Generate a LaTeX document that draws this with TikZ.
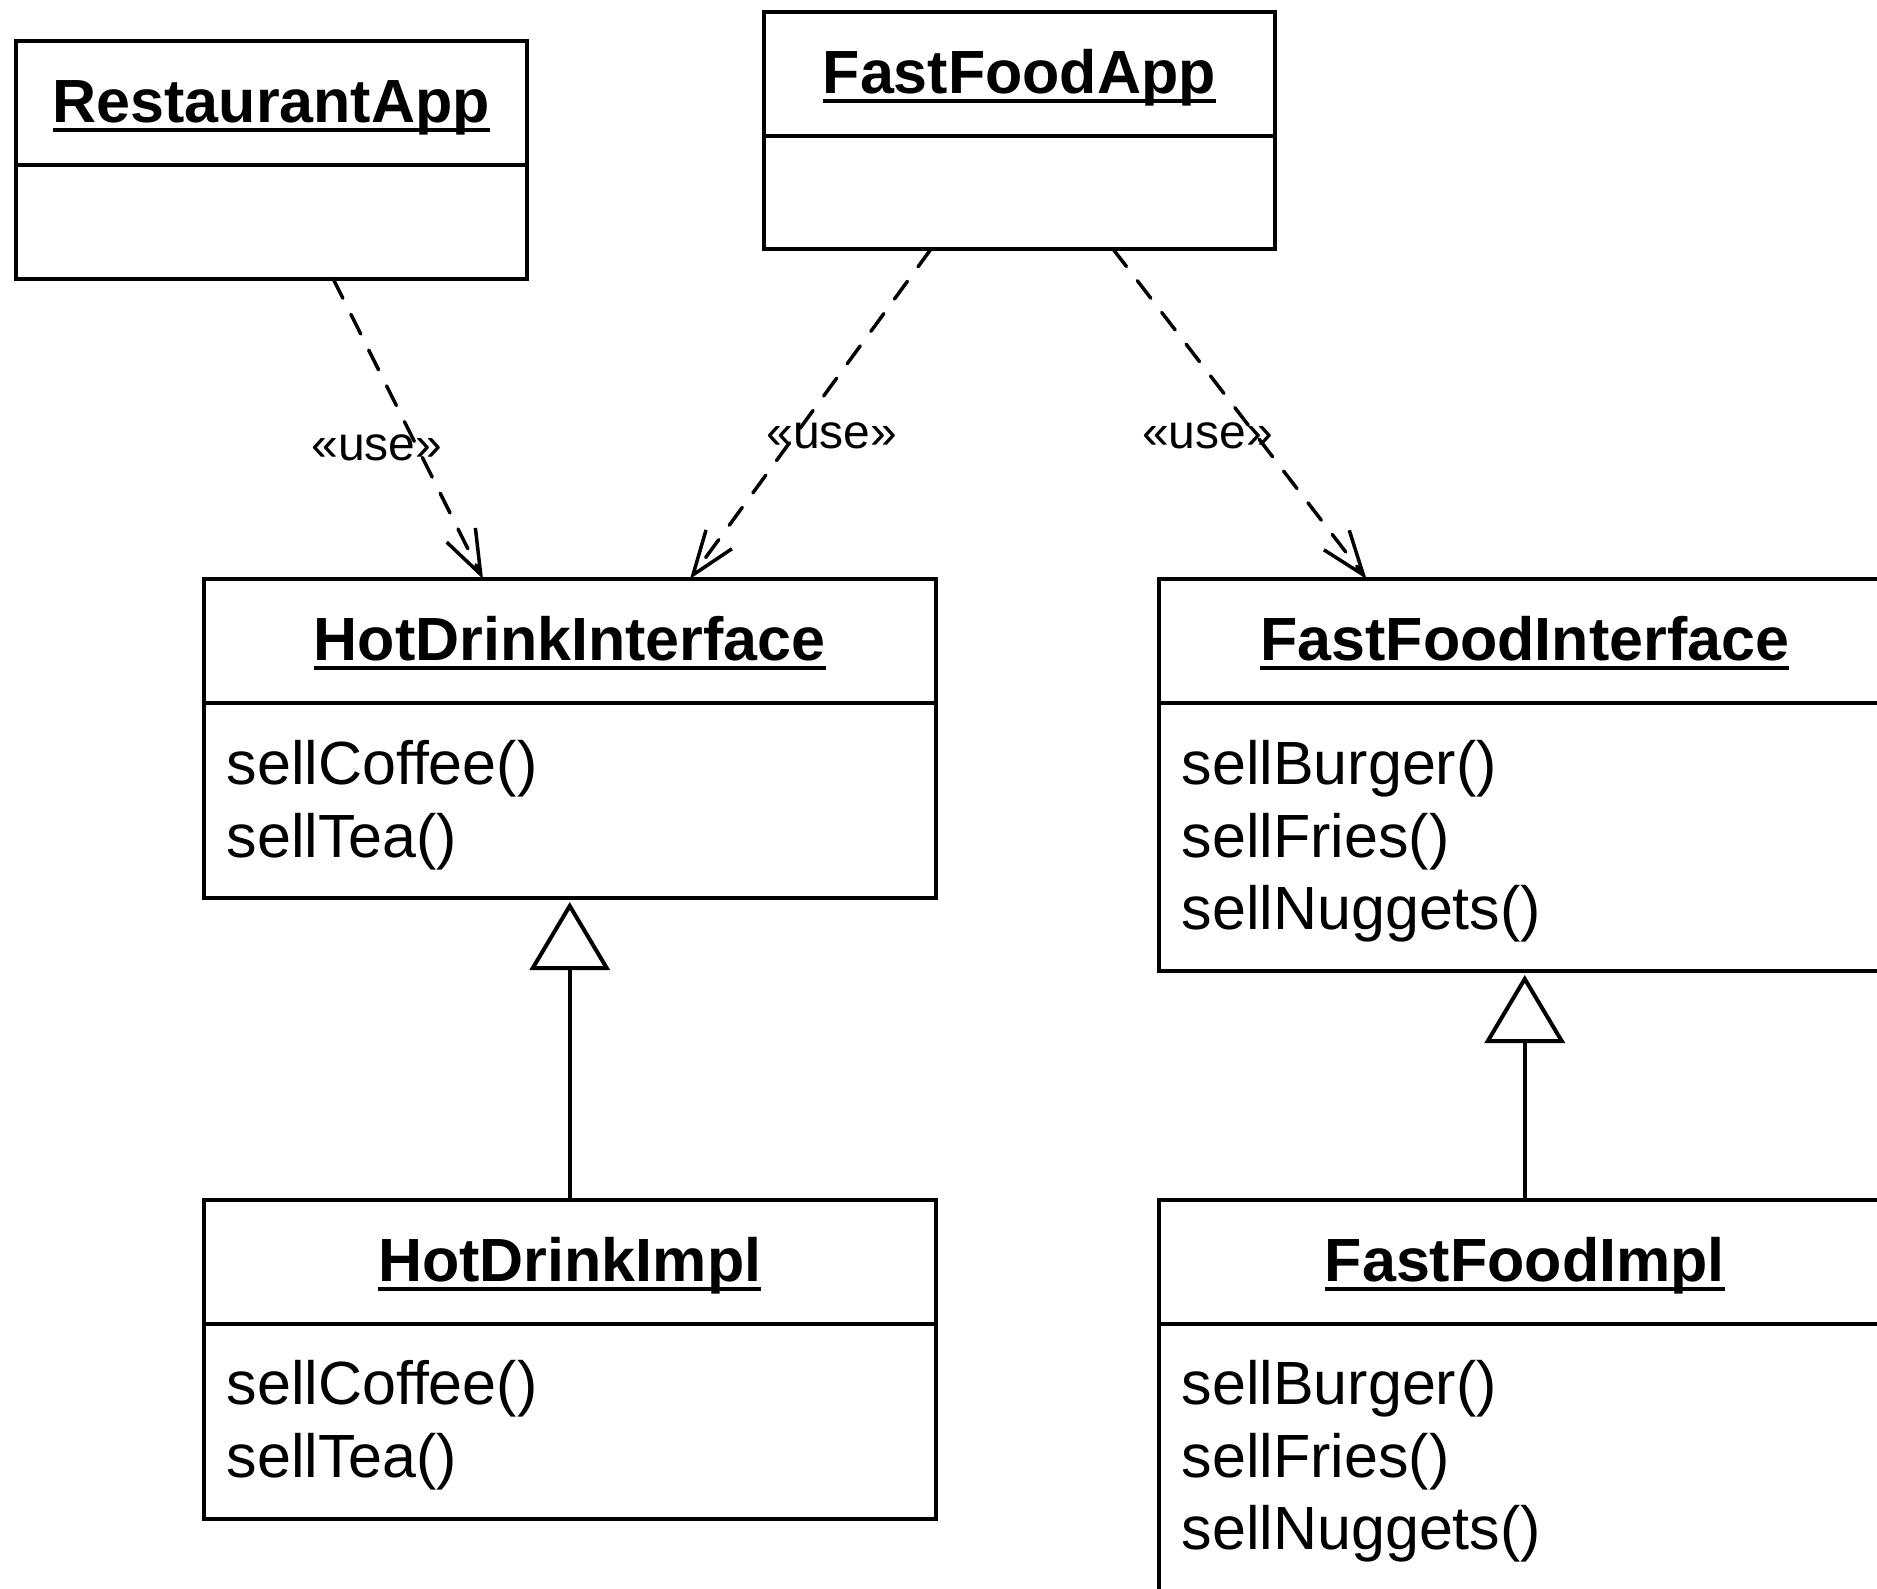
\documentclass[tikz,border=0pt]{standalone}
\usepackage{fontspec}
\setmainfont{Liberation Sans}
\usetikzlibrary{arrows.meta}
% class name with a heavy underline
\newcommand\ulname[1]{\setbox0=\hbox{#1}\rlap{\rule[-10pt]{\wd0}{4pt}}\box0}

\begin{document}
\begin{tikzpicture}[x=1pt,y=-1pt,
  classbox/.style={draw, line width=4pt, rectangle, inner sep=0pt, outer sep=0pt, anchor=north west},
  divider/.style={line width=4pt},
  cname/.style={font=\fontsize{61}{73}\selectfont\bfseries, inner sep=0pt, anchor=base},
  meth/.style={font=\fontsize{61}{73}\selectfont, inner sep=0pt, anchor=base west},
  stereo/.style={font=\fontsize{48}{58}\selectfont, inner sep=0pt, anchor=base},
  usedep/.style={line width=3.5pt, line cap=round, dash pattern=on 22pt off 18pt,
    -{Straight Barb[length=44pt,width=32pt,line cap=butt]}},
  realize/.style={line width=4pt, -{Triangle[open,length=68pt,width=80pt]}, shorten >=4pt}
]
\useasboundingbox (0,0) rectangle (1877,1588);
\clip (0,0) rectangle (1877,1588);

% class boxes
\node[classbox, minimum width=511.5pt, minimum height=237.5pt] (ra)  at (15.5,41) {};
\node[classbox, minimum width=511.5pt, minimum height=237pt]   (ffa) at (763.5,12) {};
\node[classbox, minimum width=732.5pt, minimum height=319pt]   (hdi) at (203.5,579) {};
\node[classbox, minimum width=732.5pt, minimum height=392pt]   (ffi) at (1158.5,579) {};
\node[classbox, minimum width=732.5pt, minimum height=318.5pt] (hdm) at (203.5,1200) {};
\node[classbox, minimum width=732.5pt, minimum height=392pt]   (ffm) at (1158.5,1200) {};

% compartment dividers
\foreach \b in {ra,ffa,hdi,ffi,hdm,ffm}
  \draw[divider] ([yshift=-124pt]\b.north west) -- ([yshift=-124pt]\b.north east);

% class names
\node[cname] (raT)  at ([yshift=-81pt]ra.north)  {\ulname{RestaurantApp}};
\node[cname] (ffaT) at ([yshift=-81pt]ffa.north) {\ulname{FastFoodApp}};
\node[cname] (hdiT) at ([yshift=-81pt]hdi.north) {\ulname{HotDrinkInterface}};
\node[cname] (ffiT) at ([yshift=-81pt]ffi.north) {\ulname{FastFoodInterface}};
\node[cname] (hdmT) at ([yshift=-81pt]hdm.north) {\ulname{HotDrinkImpl}};
\node[cname] (ffmT) at ([yshift=-81pt]ffm.north) {\ulname{FastFoodImpl}};

% operations
\node[meth] (hdiA) at ([xshift=23pt,yshift=-205pt]hdi.north west) {sellCoffee()};
\node[meth] (hdiB) at ([xshift=23pt,yshift=-278pt]hdi.north west) {sellTea()};
\node[meth] (ffiA) at ([xshift=23pt,yshift=-205pt]ffi.north west) {sellBurger()};
\node[meth] (ffiB) at ([xshift=23pt,yshift=-278pt]ffi.north west) {sellFries()};
\node[meth] (ffiC) at ([xshift=23pt,yshift=-350pt]ffi.north west) {sellNuggets()};
\node[meth] (hdmA) at ([xshift=23pt,yshift=-204pt]hdm.north west) {sellCoffee()};
\node[meth] (hdmB) at ([xshift=23pt,yshift=-277pt]hdm.north west) {sellTea()};
\node[meth] (ffmA) at ([xshift=23pt,yshift=-204pt]ffm.north west) {sellBurger()};
\node[meth] (ffmB) at ([xshift=23pt,yshift=-277pt]ffm.north west) {sellFries()};
\node[meth] (ffmC) at ([xshift=23pt,yshift=-349pt]ffm.north west) {sellNuggets()};

% usage dependencies
\draw[usedep] ([xshift=61.75pt]ra.south)   -- ([xshift=-86.75pt]hdi.north);
\draw[usedep] ([xshift=-88.25pt]ffa.south) -- ([xshift=120.25pt]hdi.north);
\draw[usedep] ([xshift=93.75pt]ffa.south)  -- ([xshift=-158.25pt]ffi.north);

\node[stereo] (use1) at (376.7,460) {«use»};
\node[stereo] (use2) at (832,448)   {«use»};
\node[stereo] (use3) at (1207.5,448) {«use»};

% realizations
\draw[realize] (hdm.north) -- (hdi.south);
\draw[realize] (ffm.north) -- (ffi.south);
\end{tikzpicture}
\end{document}
